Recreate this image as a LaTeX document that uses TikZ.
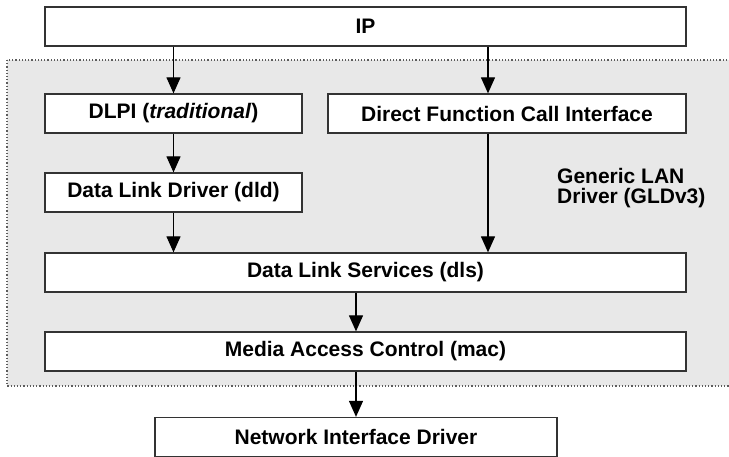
\documentclass[tikz,border=0pt]{standalone}
\usepackage{fontspec}
\setmainfont{Liberation Sans}
\usepackage{xcolor}
\usetikzlibrary{arrows.meta, positioning}

\definecolor{regiongray}{HTML}{E8E8E8}
\definecolor{edgegray}{HTML}{333333}

\begin{document}
\begin{tikzpicture}[x=1pt, y=-1pt,
    layer/.style={draw=edgegray, line width=1.3pt, fill=white, minimum height=39pt,
        inner sep=0pt, font=\fontsize{21}{22}\selectfont\bfseries},
    flow/.style={-{Triangle[length=16pt, width=14pt]}, line width=1.2pt, black}]
    \clip (0,0) rectangle (729,456);

    % gray driver region
    \draw[dotted, line width=1.2pt, edgegray!80, fill=regiongray] (7,60) rectangle (745,386);

    % layers
    \node[layer, minimum width=641pt] (ip) at (365.5,26.5) {IP};
    \node[layer, minimum width=257pt] (dlpi) at (173.5,113.5) {DLPI (\textit{traditional})};
    \node[layer, minimum width=358pt] (dfci) at (507,113.5) {Direct Function Call Interface};
    \node[layer, minimum width=257pt] (dld) at (173.5,192.5) {Data Link Driver (dld)};
    \node[layer, minimum width=641pt] (dls) at (365.5,272.5) {Data Link Services (dls)};
    \node[layer, minimum width=641pt] (mac) at (365.5,351.5) {Media Access Control (mac)};
    \node[layer, minimum width=402pt] (nid) at (356,437) {Network Interface Driver};

    \node[anchor=base west, align=left, inner sep=0pt,
        font=\fontsize{21}{20}\selectfont\bfseries] (gld) at (557,203) {Generic LAN\\Driver (GLDv3)};

    % arrows
    \coordinate (xr) at (488,0);
    \draw[flow] (dlpi.north |- ip.south) -- (dlpi.north);
    \draw[flow] (xr |- ip.south) -- (xr |- dfci.north);
    \draw[flow] (dlpi.south) -- (dld.north);
    \draw[flow] (xr |- dfci.south) -- (xr |- dls.north);
    \draw[flow] (dld.south) -- (dld.south |- dls.north);
    \draw[flow] (nid.north |- dls.south) -- (nid.north |- mac.north);
    \draw[flow] (nid.north |- mac.south) -- (nid.north);
\end{tikzpicture}
\end{document}
